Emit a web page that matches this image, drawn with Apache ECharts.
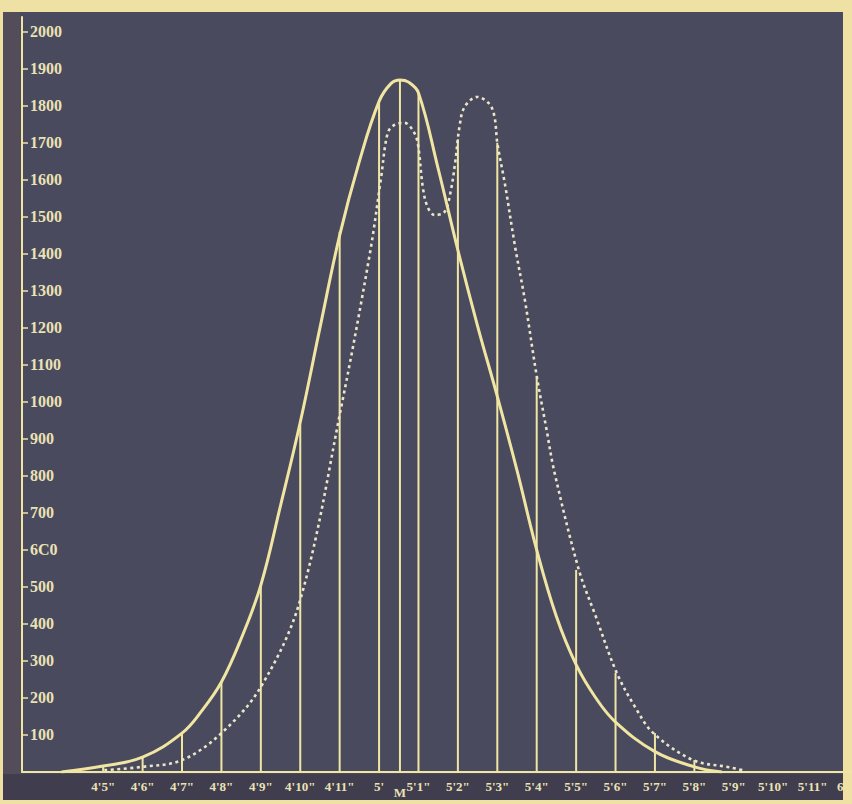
<!DOCTYPE html>
<html>
<head>
<meta charset="utf-8">
<script src="https://cdn.jsdelivr.net/npm/echarts@6/dist/echarts.min.js"></script>
<style>
  html, body { margin: 0; padding: 0; background: #eee1a3; }
  #wrap { position: relative; width: 852px; height: 804px; overflow: hidden; background: #eee1a3; }
  .board { position: absolute; left: 3px; top: 12px; width: 840px; height: 788px; background: #4a4a5e; }
  .strip { position: absolute; left: 3px; top: 12px; width: 17px; height: 788px; background: #534d5a; }
  .band { position: absolute; left: 3px; top: 774px; width: 840px; height: 26px; background: #3f3d4e; }
  #chart { position: absolute; left: 0; top: 0; width: 852px; height: 804px; }
</style>
</head>
<body>
<div id="wrap">
  <div class="board"></div>
  <div class="strip"></div>
  <div class="band"></div>
  <div id="chart"></div>
</div>
<script>
// Heights in inches (x) and counts (y)
const tickValues = [53,54,55,56,57,58,59,60,61,62,63,64,65,66,67,68,69,70,71,72];
const tickLabels = ["4'5\"","4'6\"","4'7\"","4'8\"","4'9\"","4'10\"","4'11\"","5'","5'1\"","5'2\"","5'3\"","5'4\"","5'5\"","5'6\"","5'7\"","5'8\"","5'9\"","5'10\"","5'11\"","6'"];
const meanValue = 60.53;
const meanLabel = "M";
const yTicks = [100,200,300,400,500,600,700,800,900,1000,1100,1200,1300,1400,1500,1600,1700,1800,1900,2000];
const yTickLabels = ["100","200","300","400","500","6C0","700","800","900","1000","1100","1200","1300","1400","1500","1600","1700","1800","1900","2000"];

// Solid (smooth) curve
const solidX = [51.94,53.0,54.0,55.0,55.5,56.0,56.5,57.0,57.5,58.0,58.5,59.0,59.5,60.0,60.3,60.53,60.75,61.0,61.5,62.0,62.5,63.0,63.5,64.0,64.5,65.0,65.5,66.0,67.0,68.0,68.7];
const solidY = [0,16,40,105,165,243,360,505,720,945,1200,1450,1650,1812,1860,1870,1864,1835,1630,1410,1205,1015,815,600,420,290,200,135,55,14,0];

// Dotted (observed) curve
const dotX = [53.03,54.0,55.0,56.0,57.0,58.0,59.04,59.77,60.05,60.22,60.4,60.65,60.85,60.98,61.11,61.23,61.41,61.66,61.81,61.94,62.04,62.17,62.49,62.8,62.93,63.0,63.2,63.45,63.7,64.0,64.25,64.45,65.07,65.5,66.03,66.5,66.96,67.97,68.88,69.3];
const dotY = [5,14,32,105,230,465,986,1403,1605,1727,1749,1754,1735,1700,1580,1527,1505,1513,1565,1654,1743,1797,1824,1805,1770,1700,1585,1420,1275,1070,925,810,546,420,268,175,105,32,13,3];

// Ordinates (vertical lines)
const ordX = [53,54,55,56,57,58,59,60,60.53,61,62,63,64,65,66,67,68];
const ordY = [16,40,105,243,505,938,1460,1816,1870,1835,1710,1700,1065,546,268,105,32];

const cream = '#f0e6a2';
const dotColor = '#ebe6c8';
const labelColor = '#ebe2b4';

const chart = echarts.init(document.getElementById('chart'), null, { renderer: 'svg' });

const zip = (xs, ys) => xs.map((x, i) => [x, ys[i]]);

chart.setOption({
  backgroundColor: 'transparent',
  animation: false,
  grid: { left: 22, width: 834, top: 17, bottom: 32, containLabel: false },
  xAxis: {
    type: 'value',
    min: 50.94,
    max: 72,
    splitLine: { show: false },
    axisLine: { show: true, lineStyle: { color: cream, width: 2 } },
    axisTick: { show: false },
    axisLabel: {
      customValues: tickValues.concat([meanValue]),
      margin: 8,
      color: labelColor,
      fontFamily: 'Liberation Serif',
      fontWeight: 'bold',
      fontSize: 13,
      formatter: function (v) {
        if (Math.abs(v - meanValue) < 1e-6) return '{m|' + meanLabel + '}';
        const i = tickValues.indexOf(v);
        if (i < 0) return '';
        if (i === tickValues.length - 1) return '{r|' + tickLabels[i] + '}';
        return tickLabels[i];
      },
      rich: {
        m: { color: labelColor, fontFamily: 'Liberation Serif', fontWeight: 'bold', fontSize: 13, padding: [6, 0, 0, 0] },
        r: { color: labelColor, fontFamily: 'Liberation Serif', fontWeight: 'bold', fontSize: 13, padding: [0, 20, 0, 0] }
      }
    }
  },
  yAxis: {
    type: 'value',
    min: 0,
    max: 2040,
    splitLine: { show: false },
    axisLine: { show: true, lineStyle: { color: cream, width: 2 } },
    axisTick: { show: true, inside: true, length: 6, customValues: yTicks, lineStyle: { color: cream, width: 1.5 } },
    axisLabel: {
      inside: true,
      margin: 8,
      customValues: yTicks,
      color: labelColor,
      fontFamily: 'Liberation Serif',
      fontWeight: 'bold',
      fontSize: 16,
      formatter: function (v) {
        const i = yTicks.indexOf(v);
        return i < 0 ? '' : yTickLabels[i];
      }
    }
  },
  series: [
    {
      type: 'custom',
      name: 'ordinates',
      data: zip(ordX, ordY),
      renderItem: function (params, api) {
        const x = api.value(0), y = api.value(1);
        const p0 = api.coord([x, 0]);
        const p1 = api.coord([x, y]);
        return {
          type: 'line',
          shape: { x1: p0[0], y1: p0[1], x2: p1[0], y2: p1[1] },
          style: { stroke: cream, lineWidth: 2 }
        };
      },
      z: 1
    },
    {
      type: 'line',
      name: 'observed',
      data: zip(dotX, dotY),
      smooth: 0.35,
      symbol: 'none',
      lineStyle: { color: dotColor, width: 2.6, type: [3, 3.5] },
      z: 2
    },
    {
      type: 'line',
      name: 'normal',
      data: zip(solidX, solidY),
      smooth: 0.4,
      symbol: 'none',
      lineStyle: { color: cream, width: 3 },
      z: 3
    }
  ]
});
</script>
</body>
</html>
